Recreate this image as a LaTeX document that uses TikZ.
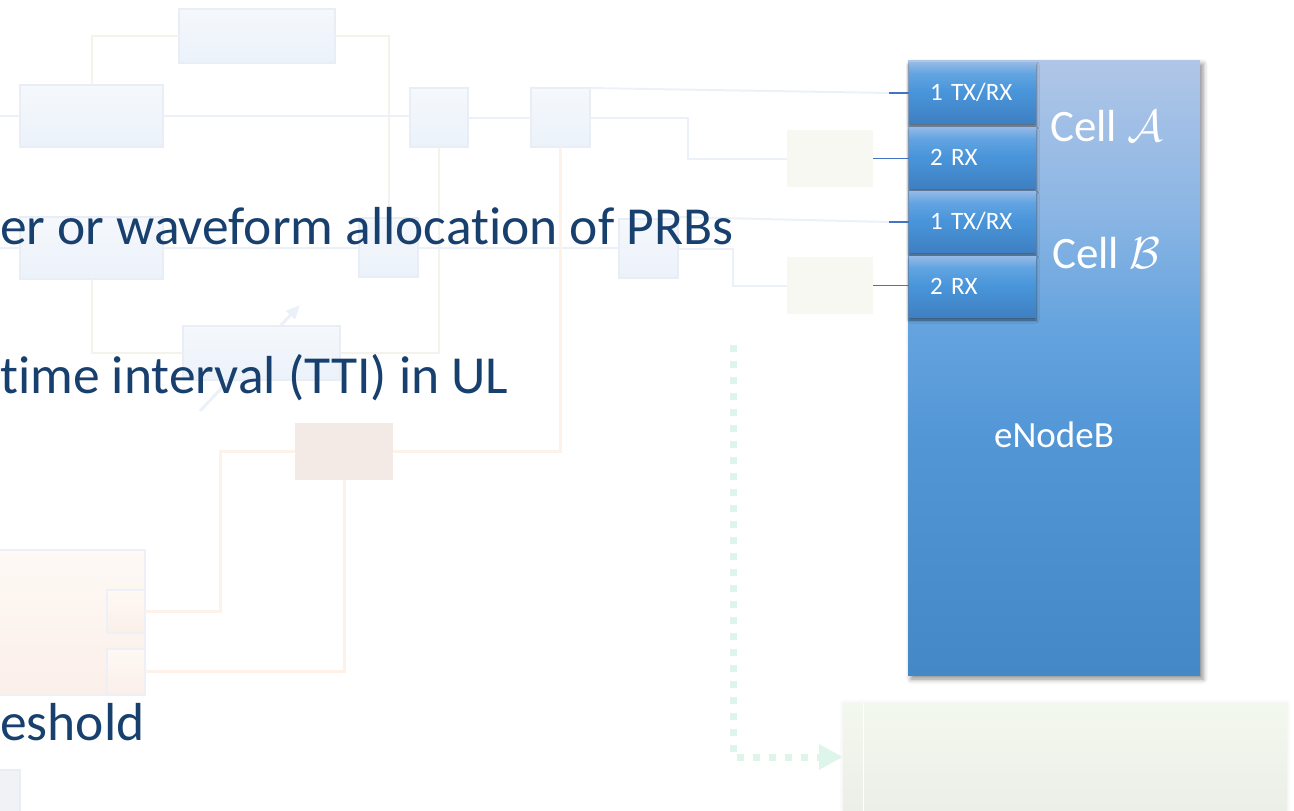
\documentclass[tikz,border=0pt]{standalone}
\usepackage{fontspec}
\setmainfont[Ligatures={NoCommon}]{Carlito}
\usetikzlibrary{shadows.blur,arrows.meta}

\definecolor{ink}{RGB}{24,64,110}
\definecolor{fadetop}{RGB}{245,248,252}
\definecolor{fadebot}{RGB}{236,242,250}
\definecolor{fadeedge}{RGB}{232,237,246}
\definecolor{fadeline}{RGB}{236,241,249}
\definecolor{beigeline}{RGB}{244,243,235}
\definecolor{peachline}{RGB}{253,241,232}
\definecolor{pinkbox}{RGB}{243,234,230}
\definecolor{greenbox}{RGB}{246,248,241}
\definecolor{dotgreen}{RGB}{222,245,234}
\definecolor{stub}{RGB}{68,114,196}
\definecolor{peachtop}{RGB}{254,249,245}
\definecolor{peachbot}{RGB}{251,239,233}
\definecolor{peachedge}{RGB}{237,240,247}
\definecolor{greytile}{RGB}{240,242,246}
\definecolor{greentop}{RGB}{243,248,238}
\definecolor{greenbot}{RGB}{236,238,232}

% calligraphic cell symbols, enlarged beyond the largest fixed size of the font
\newcommand{\bigcal}[1]{\scalebox{1.8}{$\mathcal{#1}$}}

% shadings are fitted so that 25bp..75bp spans the node
\pgfdeclareverticalshading{enbshade}{100bp}{%
  rgb(0bp)=(0.267,0.533,0.780); rgb(25bp)=(0.267,0.533,0.780);
  rgb(44bp)=(0.322,0.588,0.839); rgb(53bp)=(0.392,0.639,0.871);
  rgb(63bp)=(0.549,0.714,0.894); rgb(75bp)=(0.690,0.776,0.906);
  rgb(100bp)=(0.690,0.776,0.906)}
\pgfdeclareverticalshading{subshade}{100bp}{%
  rgb(0bp)=(0.243,0.502,0.761); rgb(25bp)=(0.243,0.502,0.761);
  rgb(52bp)=(0.290,0.588,0.859); rgb(66bp)=(0.392,0.647,0.882);
  rgb(75bp)=(0.588,0.729,0.902); rgb(100bp)=(0.588,0.729,0.902)}

\begin{document}
\begin{tikzpicture}[x=1pt,y=-1pt,
  fb/.style={draw=fadeedge, line width=2pt, top color=fadetop, bottom color=fadebot,
    inner sep=0pt, outer sep=0pt},
  flat/.style={fill=#1, inner sep=0pt, outer sep=0pt},
  pb/.style={draw=peachedge, line width=2pt, top color=peachtop, bottom color=peachbot,
    inner sep=0pt, outer sep=0pt},
  bline/.style={draw=fadeline, line width=2pt},
  beline/.style={draw=beigeline, line width=2pt},
  peline/.style={draw=peachline, line width=3pt},
  stubline/.style={draw=stub, line width=1.5pt},
  slidetext/.style={text=ink, font=\fontsize{53.5}{64}\selectfont, inner sep=0pt},
  enb/.style={shading=enbshade, minimum width=292pt, minimum height=615pt,
    inner sep=0pt, outer sep=0pt,
    blur shadow={shadow xshift=3pt, shadow yshift=-4pt, shadow opacity=45, shadow blur radius=5pt}},
  subbox/.style={shading=subshade, minimum height=61pt, text width=85pt, inner xsep=21pt,
    inner ysep=0pt, outer sep=0pt, align=left, text=white, font=\fontsize{25}{30}\selectfont,
    blur shadow={shadow xshift=0pt, shadow yshift=-3pt, shadow opacity=55, shadow blur radius=3pt}},
  celltext/.style={text=white, font=\fontsize{45}{54}\selectfont, inner sep=0pt}
]
\useasboundingbox (0,0) rectangle (1294,811);
\clip (0,0) rectangle (1294,811);

% faint pointer arrow behind the lower box
\coordinate (fa1) at (200,411);
\coordinate (fa2) at (300,305);
\draw[fadeline, line width=3pt, -{Triangle[length=14pt,width=12pt]}] (fa1) -- (fa2);

% faded blocks
\node[fb, minimum width=156pt, minimum height=54pt] (T1) at (257,36) {};
\node[fb, minimum width=143pt, minimum height=62pt] (L1) at (91.5,116) {};
\node[fb, minimum width=58pt, minimum height=59pt] (M1) at (439,117.5) {};
\node[fb, minimum width=59pt, minimum height=59pt] (M2) at (560.5,117.5) {};
\node[fb, minimum width=143pt, minimum height=62pt] (L2) at (91.5,248) {};
\node[fb, minimum width=59pt, minimum height=59pt] (M3) at (388.5,247.5) {};
\node[fb, minimum width=59pt, minimum height=59pt] (M4) at (648.5,248.5) {};
\node[fb, minimum width=157pt, minimum height=54pt] (B1) at (261.5,353) {};
\node[flat=pinkbox, minimum width=98pt, minimum height=57pt] (P1) at (344,451.5) {};
\node[flat=greenbox, minimum width=86pt, minimum height=57pt] (G1) at (830,158.5) {};
\node[flat=greenbox, minimum width=86pt, minimum height=57pt] (G2) at (830,285.5) {};
\node[pb, minimum width=165pt, minimum height=145pt] (Q) at (62.5,622.5) {};
\node[pb, minimum width=38pt, minimum height=43pt] (Q1) at (126,611.5) {};
\node[pb, minimum width=38pt, minimum height=45pt] (Q2) at (126,671.5) {};
\node[flat=greytile, draw=fadeedge, line width=2pt, minimum width=40pt, minimum height=50pt] (BL) at (0,795) {};
\node[top color=greentop, bottom color=greenbot, minimum width=444pt, minimum height=108pt,
  inner sep=0pt, outer sep=0pt,
  blur shadow={shadow xshift=0pt, shadow yshift=0pt, shadow opacity=8, shadow blur radius=4pt}]
  (GR) at (1065,757) {};
\draw[white, line width=1pt] (GR.north west) ++(20,0) coordinate (grl) -- (grl |- GR.south);

% faded connectors
\coordinate (lin1) at (0,116);
\coordinate (lin2) at (0,248);
\draw[beline] (T1.west) -| (L1.north);
\draw[beline] (T1.east) -| (M3.north);
\draw[bline] (lin1) -- (L1.west);
\draw[bline] (L1.east) -- (L1.east -| M1.west);
\draw[bline] (M1.east) -- (M1.east -| M2.west);
\draw[beline] (M1.south) |- (B1.east);
\draw[beline] (L2.south) |- (B1.west);
\draw[bline] (lin2) -- (L2.west);
\draw[bline] (L2.east) -- (L2.east -| M3.west);
\draw[bline] (M3.east) -- (M3.east -| M4.west);
\draw[bline] (M4.east) -- (733,248.5) |- (G2.west);
\draw[bline] (M2.east) -- (688,117.5) |- (G1.west);
\coordinate (k1) at (889,93);
\coordinate (k3) at (889,222);
\draw[bline] (M2.north east) -- (k1);
\draw[bline] ([yshift=2pt]M4.north east) -- (k3);
\draw[peline] (M2.south) |- (P1.east);
\draw[peline] (P1.west) -- (220,451.5) |- (Q1.east);
\draw[peline] (P1.south) |- (Q2.east);

% dotted hand-off arrow
\coordinate (d1) at (733,345);
\draw[dotgreen, line width=7pt, dash pattern=on 7pt off 9pt,
  -{Triangle[length=24pt,width=24pt]}] (d1) |- (GR.west);

% slide text
\node[slidetext, anchor=base west] (txa) at (0,244) {er or waveform allocation of PRBs};
\node[slidetext, anchor=base west] (txb) at (0,393) {time interval (TTI) in UL};
\node[slidetext, anchor=base west] (txc) at (0,740) {eshold};

% eNodeB with its antenna ports
\node[enb] (enb) at (1054,367.5) {};
\node[subbox] (SB1) at (972.5,92.5) {1 TX/RX};
\node[subbox] (SB2) at (972.5,157.5) {2 RX};
\node[subbox] (SB3) at (972.5,221.5) {1 TX/RX};
\node[subbox] (SB4) at (972.5,286.5) {2 RX};
\node[celltext, anchor=base west] (cellA) at (1050,141.7) {Cell \bigcal{A}};
\node[celltext, anchor=base west] (cellB) at (1052,268) {Cell \bigcal{B}};
\node[text=white, font=\fontsize{37}{44}\selectfont, inner sep=0pt, anchor=base] (enbl) at (1054,447.5) {eNodeB};

% port feeds
\draw[stubline] (k1) -- (SB1.west |- k1);
\draw[stubline] (G1.east) -- (SB2.west |- G1.east);
\draw[stubline] (k3) -- (SB3.west |- k3);
\draw[stubline] (G2.east) -- (SB4.west |- G2.east);
\end{tikzpicture}
\end{document}
